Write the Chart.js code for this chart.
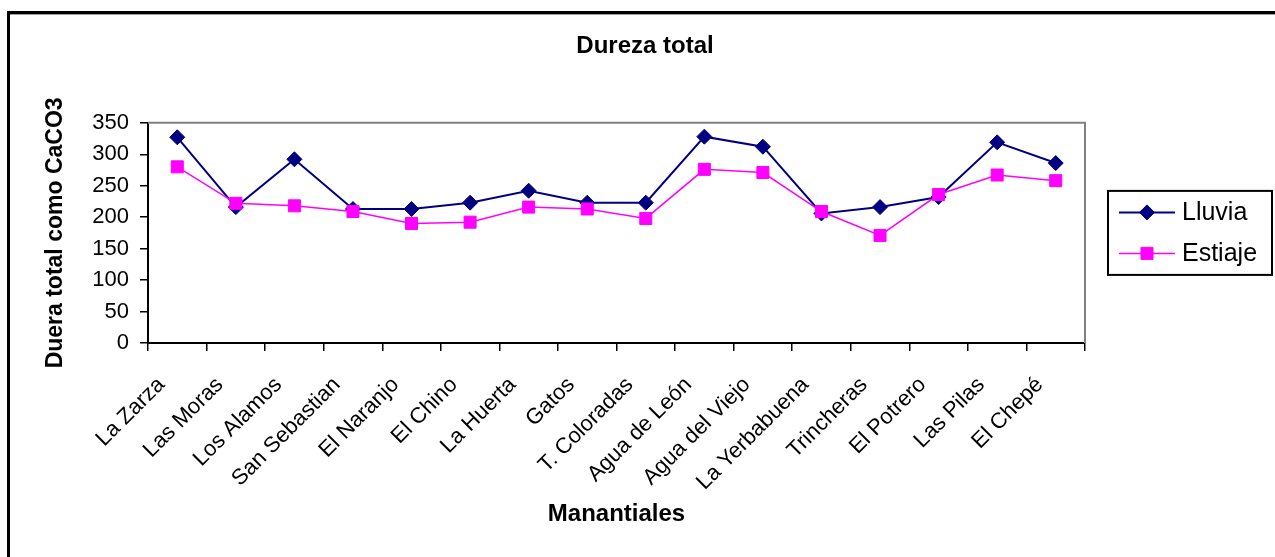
<!DOCTYPE html>
<html><head><meta charset="utf-8">
<script src="https://cdn.jsdelivr.net/npm/chart.js@4.4.0/dist/chart.umd.min.js"></script>
<style>html,body{margin:0;padding:0;background:#fff;overflow:hidden}#wrap{width:1275px;height:557px;position:relative}</style>
</head><body><div id="wrap"><canvas id="c" width="1275" height="557"></canvas></div>
<script>
const categories = ['La Zarza','Las Moras','Los Alamos','San Sebastian','El Naranjo','El Chino','La Huerta','Gatos','T. Coloradas','Agua de León','Agua del Viejo','La Yerbabuena','Trincheras','El Potrero','Las Pilas','El Chepé'];
const lluvia  = [327,216,292,213,213,223,242,223,223,328,312,206,216,232,319,286];
const estiaje = [280,222,218,209,190,192,216,213,198,276,271,209,171,236,267,258];
const yTicks = [0,50,100,150,200,250,300,350];

const FONT = '"Liberation Sans", Arial, Helvetica, sans-serif';
Chart.defaults.font.family = FONT;
Chart.defaults.color = '#000';

const framePlugin = {
  id: 'frame',
  beforeDraw(chart) {
    const ctx = chart.ctx;
    ctx.save();
    ctx.fillStyle = '#fff';
    ctx.fillRect(0, 0, chart.width, chart.height);
    ctx.fillStyle = '#000';
    ctx.fillRect(7, 11, chart.width, 3);
    ctx.fillRect(7, 11, 3, chart.height);
    ctx.fillStyle = '#a0a0a0';
    ctx.fillRect(10, 14, chart.width, 1);
    ctx.restore();
  },
  beforeDatasetsDraw(chart) {
    const ctx = chart.ctx, ca = chart.chartArea;
    ctx.save();
    ctx.strokeStyle = '#808080';
    ctx.lineWidth = 2;
    ctx.beginPath();
    ctx.moveTo(ca.left, ca.top);
    ctx.lineTo(ca.right, ca.top);
    ctx.lineTo(ca.right, ca.bottom);
    ctx.stroke();
    ctx.restore();
  }
};

const legendPlugin = {
  id: 'boxLegend',
  afterDraw(chart) {
    const ctx = chart.ctx, ca = chart.chartArea;
    const bx = ca.right + 23, cy = (ca.top + ca.bottom) / 2, bw = 164, bh = 84;
    ctx.save();
    ctx.lineWidth = 2;
    ctx.strokeStyle = '#000';
    ctx.strokeRect(bx, cy - bh / 2, bw, bh);
    chart.data.datasets.forEach((ds, i) => {
      const y = cy - 20.5 + i * 41;
      const x0 = bx + 11, x1 = bx + 67, xm = (x0 + x1) / 2;
      ctx.strokeStyle = ds.borderColor;
      ctx.lineWidth = ds.borderWidth;
      ctx.beginPath(); ctx.moveTo(x0, y); ctx.lineTo(x1, y); ctx.stroke();
      const r = ds.pointRadius;
      ctx.fillStyle = ds.pointBackgroundColor;
      ctx.strokeStyle = ds.pointBorderColor;
      ctx.lineWidth = 1;
      ctx.beginPath();
      if (ds.pointStyle === 'rectRot') {
        ctx.moveTo(xm, y - r); ctx.lineTo(xm + r, y); ctx.lineTo(xm, y + r); ctx.lineTo(xm - r, y); ctx.closePath();
      } else {
        const s = r * Math.SQRT1_2;
        ctx.rect(xm - s, y - s, 2 * s, 2 * s);
      }
      ctx.fill(); ctx.stroke();
      ctx.fillStyle = '#000';
      ctx.font = '25px ' + FONT;
      ctx.textBaseline = 'middle';
      ctx.textAlign = 'left';
      ctx.fillText(ds.label, bx + 74, y + 1);
    });
    ctx.restore();
  }
};

new Chart(document.getElementById('c'), {
  type: 'line',
  data: {
    labels: categories,
    datasets: [
      { label: 'Lluvia', data: lluvia, order: 1,
        borderColor: '#000080', backgroundColor: '#000080', borderWidth: 2,
        pointStyle: 'rectRot', pointRadius: 7.5, pointBackgroundColor: '#000080', pointBorderColor: '#000080', pointBorderWidth: 1,
        tension: 0, fill: false },
      { label: 'Estiaje', data: estiaje, order: 0,
        borderColor: '#FF00FF', backgroundColor: '#FF00FF', borderWidth: 1.5,
        pointStyle: 'rect', pointRadius: 8.5, pointBackgroundColor: '#FF00FF', pointBorderColor: '#FF00FF', pointBorderWidth: 1,
        tension: 0, fill: false }
    ]
  },
  options: {
    responsive: false,
    animation: false,
    devicePixelRatio: 1,
    events: [],
    layout: { padding: { left: 15, right: 0, top: 0, bottom: 0 } },
    plugins: {
      legend: { display: false },
      tooltip: { enabled: false },
      title: { display: true, text: 'Dureza total', color: '#000',
        font: { family: FONT, size: 24, weight: 'bold' }, padding: { top: 32, bottom: 62 } }
    },
    scales: {
      x: {
        offset: true,
        afterFit: s => { s.height = 214; },
        ticks: { font: { family: FONT, size: 22 }, color: '#000', minRotation: 45, maxRotation: 45, autoSkip: false, padding: 21, labelOffset: -16 },
        grid: { offset: true, drawOnChartArea: false, drawTicks: true, tickLength: 8, color: '#000', lineWidth: 1.5 },
        border: { display: true, color: '#000', width: 2 },
        title: { display: true, text: 'Manantiales', color: '#000', font: { family: FONT, size: 24, weight: 'bold' }, padding: { top: 28, bottom: 28 } }
      },
      y: {
        min: 0, max: 350,
        afterBuildTicks: s => { s.ticks = yTicks.map(v => ({ value: v })); },
        afterFit: s => { s.width = 133; },
        ticks: { font: { family: FONT, size: 22 }, color: '#000', padding: 11 },
        grid: { drawOnChartArea: false, drawTicks: true, tickLength: 8, color: '#000', lineWidth: 1.5 },
        border: { display: true, color: '#000', width: 2 },
        title: { display: true, text: 'Duera total como CaCO3', color: '#000', font: { family: FONT, size: 23, weight: 'bold' }, padding: { top: 27, bottom: 0 } }
      },
      y2: {
        position: 'right', display: true,
        afterFit: s => { s.width = 190; },
        ticks: { display: false },
        grid: { display: false, drawTicks: false },
        border: { display: false }
      }
    }
  },
  plugins: [framePlugin, legendPlugin]
});
</script>
</body></html>
